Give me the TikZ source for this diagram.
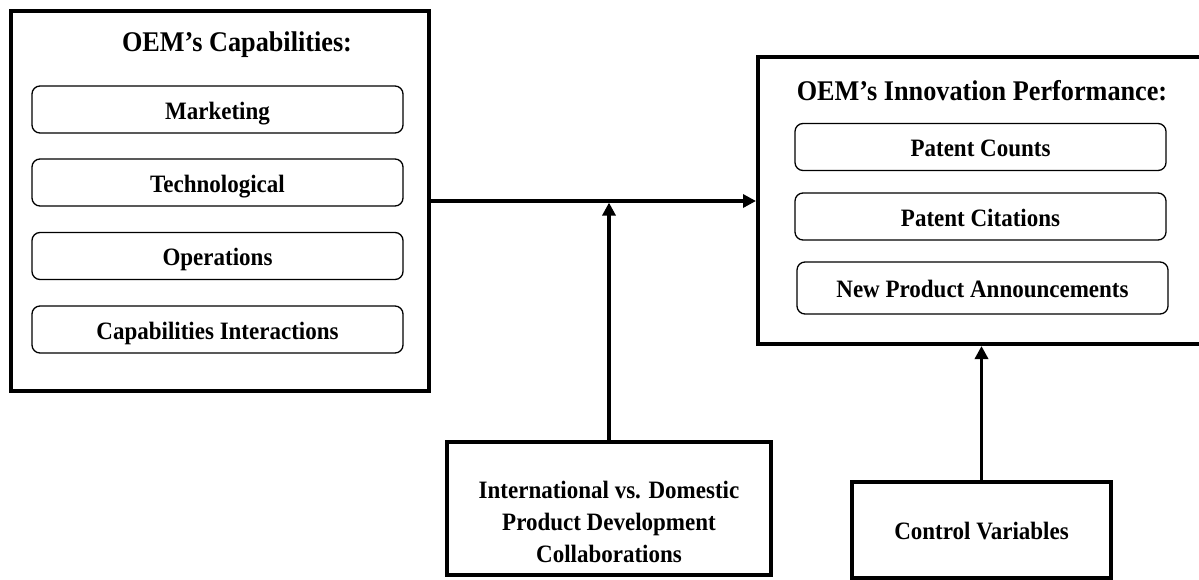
\documentclass[tikz,border=0pt]{standalone}
\usepackage{fontspec}
\setmainfont[FakeStretch=0.92]{Liberation Serif}
\usetikzlibrary{arrows.meta}
\begin{document}
\begin{tikzpicture}[x=1pt,y=-1pt,
  bigbox/.style={draw,line width=4pt,inner sep=0pt},
  itembox/.style={draw,line width=1.3pt,rounded corners=8pt,minimum width=371pt,
    minimum height=47pt,inner sep=0pt,text height=19pt,text depth=0pt,
    font=\bfseries\fontsize{25}{30}\selectfont},
  titletext/.style={inner sep=0pt,anchor=base,font=\bfseries\fontsize{28.5}{34}\selectfont},
  bodytext/.style={inner sep=0pt,font=\bfseries\fontsize{25}{32}\selectfont},
  arr/.style={line width=3.3pt,-{Triangle[length=13pt,width=13pt]}}]
\useasboundingbox (0,0) rectangle (1199,579);

% left box
\node[bigbox,minimum width=418pt,minimum height=380pt] (cap) at (220,201) {};
\node[titletext] (capT) at (237,51) {OEM’s Capabilities:};
\node[itembox] (mkt) at (217.5,109.5) {Marketing};
\node[itembox] (tech) at (217.5,182.5) {Technological};
\node[itembox] (ops) at (217.5,256) {Operations};
\node[itembox] (inter) at (217.5,329.5) {Capabilities Interactions};

% right box
\node[bigbox,minimum width=448pt,minimum height=287pt] (perf) at (982,200.5) {};
\node[titletext] (perfT) at (982,100) {OEM’s Innovation Performance:};
\node[itembox] (pc) at (980.5,147) {Patent Counts};
\node[itembox] (pcit) at (980.5,216.5) {Patent Citations};
\node[itembox,minimum height=52pt] (npa) at (982.5,288) {New Product Announcements};

% moderator box
\node[bigbox,minimum width=324pt,minimum height=133pt] (intl) at (609,508.5) {};
\node[bodytext,align=center] (intlT) at (609,521.5)
  {International vs. Domestic\\Product Development\\Collaborations};

% control box
\node[bigbox,minimum width=259pt,minimum height=96pt,text height=19pt,text depth=0pt,
  font=\bfseries\fontsize{25}{30}\selectfont] (ctrl) at (981.5,530) {Control Variables};

% connectors
\draw[arr] (cap.east) -- (cap.east -| perf.west);
\draw[arr,shorten >=1.6pt] (intl.north) -- (intl.north |- cap.east);
\draw[arr] (ctrl.north) -- (ctrl.north |- perf.south);
\end{tikzpicture}
\end{document}
